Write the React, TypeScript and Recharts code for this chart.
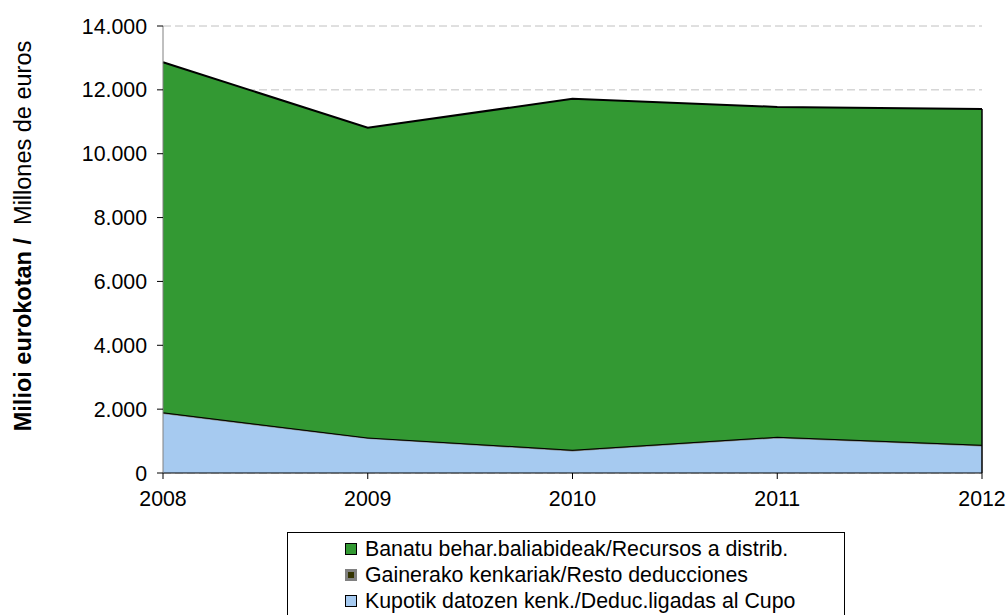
import React from 'react';
import { AreaChart, Area, XAxis, YAxis, CartesianGrid, ReferenceLine } from 'recharts';

const years = ['2008', '2009', '2010', '2011', '2012'];
const banatu = [10960, 9700, 10990, 10330, 10515];
const gainerako = [35, 30, 30, 30, 30];
const kupotik = [1870, 1085, 700, 1105, 855];
const yTicks = [0, 2000, 4000, 6000, 8000, 10000, 12000, 14000];

const nameBanatu = 'Banatu behar.baliabideak/Recursos a distrib.';
const nameGainerako = 'Gainerako kenkariak/Resto deducciones';
const nameKupotik = 'Kupotik datozen kenk./Deduc.ligadas al Cupo';

const data = years.map((y, i) => ({
  year: y,
  kupotik: kupotik[i],
  gainerako: gainerako[i],
  banatu: banatu[i],
}));
const lastIdx = years.length - 1;
const lastTotal = kupotik[lastIdx] + gainerako[lastIdx] + banatu[lastIdx];

const FONT = '"Liberation Sans", Arial, sans-serif';
const FS = 21.33;

const fmt = (v: number) => {
  const s = Math.round(v).toString();
  return s.replace(/\B(?=(\d{3})+(?!\d))/g, '.');
};

const YLabel = () => (
  <text
    x={0}
    y={0}
    transform="translate(31, 236) rotate(-90)"
    textAnchor="middle"
    fontFamily={FONT}
    fontSize={23.5}
    fill="#000"
    style={{ whiteSpace: 'pre' }}
  >
    <tspan fontWeight="bold">Milioi eurokotan /</tspan>
    <tspan xmlSpace="preserve">{'  Millones de euros'}</tspan>
  </text>
);

const legendItems = [
  { name: nameBanatu, fill: '#339933', stroke: '#000', bw: 1 },
  { name: nameGainerako, fill: '#333300', stroke: '#808080', bw: 3 },
  { name: nameKupotik, fill: '#A6CAF0', stroke: '#000', bw: 1 },
];

export default function App() {
  return (
    <div style={{ position: 'absolute', left: 0, top: 0, width: 1007, height: 615, background: '#fff', overflow: 'hidden' }}>
      <AreaChart
        width={1007}
        height={615}
        data={data}
        margin={{ top: 26, right: 25, left: 0, bottom: 112 }}
      >
        <CartesianGrid vertical={false} stroke="#c0c0c0" strokeDasharray="8 4" />
        <XAxis
          dataKey="year"
          height={30}
          tick={{ fontSize: FS, fontFamily: FONT, fill: '#000' }}
          tickSize={6}
          tickMargin={12}
          axisLine={{ stroke: '#000' }}
          tickLine={{ stroke: '#000' }}
        />
        <YAxis
          width={163}
          domain={[0, 14000]}
          ticks={yTicks}
          tickFormatter={fmt}
          tick={{ fontSize: FS, fontFamily: FONT, fill: '#000' }}
          tickSize={6}
          tickMargin={10}
          axisLine={{ stroke: '#808080' }}
          tickLine={{ stroke: '#000' }}
          label={<YLabel />}
        />
        <Area
          type="linear"
          dataKey="kupotik"
          stackId="a"
          fill="#A6CAF0"
          fillOpacity={1}
          stroke="#808080"
          strokeWidth={1.5}
          isAnimationActive={false}
          name={nameKupotik}
        />
        <Area
          type="linear"
          dataKey="gainerako"
          stackId="a"
          fill="#333300"
          fillOpacity={1}
          stroke="#000"
          strokeWidth={2}
          isAnimationActive={false}
          name={nameGainerako}
        />
        <Area
          type="linear"
          dataKey="banatu"
          stackId="a"
          fill="#339933"
          fillOpacity={1}
          stroke="#000"
          strokeWidth={2}
          isAnimationActive={false}
          name={nameBanatu}
        />
        <ReferenceLine
          segment={[
            { x: years[lastIdx], y: 0 },
            { x: years[lastIdx], y: lastTotal },
          ]}
          stroke="#000"
          strokeWidth={1.5}
        />
      </AreaChart>
      <div
        style={{
          position: 'absolute',
          left: 287,
          top: 532,
          width: 558,
          height: 120,
          border: '1px solid #000',
          boxSizing: 'border-box',
          fontFamily: FONT,
          fontSize: FS,
          color: '#000',
        }}
      >
        {legendItems.map((it, i) => (
          <div
            key={i}
            style={{
              position: 'absolute',
              left: 57,
              top: 3 + i * 26,
              height: 26,
              display: 'flex',
              alignItems: 'center',
              whiteSpace: 'nowrap',
            }}
          >
            <span
              style={{
                display: 'inline-block',
                width: 12,
                height: 12,
                background: it.fill,
                border: `${it.bw}px solid ${it.stroke}`,
                boxSizing: 'border-box',
                marginRight: 8,
              }}
            />
            <span>{it.name}</span>
          </div>
        ))}
      </div>
    </div>
  );
}
